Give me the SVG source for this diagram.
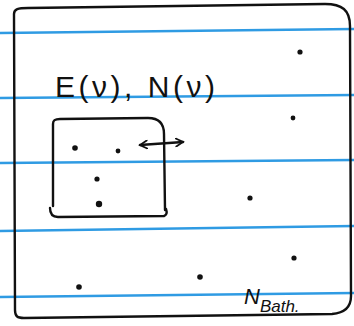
<svg xmlns="http://www.w3.org/2000/svg" width="354" height="326" viewBox="0 0 354 326">
<style>
.rule{stroke:#2f9be3;stroke-width:2.6;fill:none}
.ink{stroke:#111;stroke-width:2.4;fill:none;stroke-linecap:round;stroke-linejoin:round}
.dot{fill:#111}
.lbl{font-family:"Liberation Sans",sans-serif;fill:#111}
</style>
<defs>
<marker id="ah" markerWidth="10" markerHeight="10" refX="8" refY="5" orient="auto-start-reverse" markerUnits="userSpaceOnUse">
<path d="M1,1 L8,5 L1,9" fill="none" stroke="#111" stroke-width="1.8" stroke-linecap="round"/>
</marker>
</defs>
<rect width="354" height="326" fill="#fff"/>
<g id="rules">
<path class="rule" d="M0,33 L354,29"/>
<path class="rule" d="M0,98 L354,95"/>
<path class="rule" d="M0,163 L354,160"/>
<path class="rule" d="M0,231 L354,226"/>
<path class="rule" d="M0,297 L354,293"/>
</g>
<g id="bath">
<path class="ink" d="M14,14 C14,9 18,8 28,8 L325,4 C342,4 350,10 350,26 L351,296 C351,308 344,313 332,314 L24,318 C17,318 15,316 15,310 L14,14"/>
<text class="lbl" x="244" y="304" font-size="22" font-style="italic">N<tspan font-size="17" dy="8">Bath.</tspan></text>
</g>
<g id="system">
<path class="ink" d="M53,206 L53,124 C53,120 55,119 60,119 L148,118 C159,118 164,123 164,134 L165,210"/>
<path class="ink" d="M50,208 C50,214 53,217 58,217 L164,216 C167,215 167,212 166,209"/>
<text class="lbl" x="55" y="97" font-size="30" textLength="160" lengthAdjust="spacing">E(ν), N(ν)</text>
</g>
<g id="particles">
<circle class="dot" cx="300" cy="52" r="2.6"/>
<circle class="dot" cx="293" cy="118" r="2.4"/>
<circle class="dot" cx="75" cy="148" r="2.8"/>
<circle class="dot" cx="118" cy="151" r="2.4"/>
<circle class="dot" cx="97" cy="179" r="2.6"/>
<circle class="dot" cx="99" cy="204" r="3.2"/>
<circle class="dot" cx="250" cy="198" r="2.6"/>
<circle class="dot" cx="294" cy="258" r="2.6"/>
<circle class="dot" cx="200" cy="277" r="2.8"/>
<circle class="dot" cx="79" cy="287" r="2.8"/>
</g>
<g id="connectors">
<path class="ink" d="M140,145 L183,142" marker-start="url(#ah)" marker-end="url(#ah)"/>
</g>
</svg>
